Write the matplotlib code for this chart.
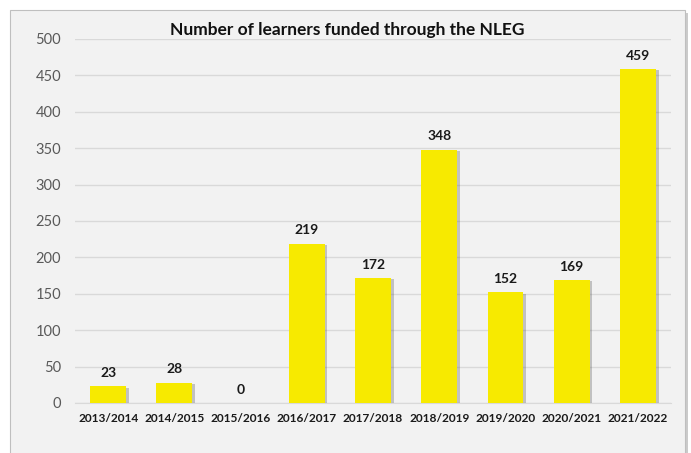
import matplotlib
matplotlib.use('Agg')
import matplotlib.pyplot as plt
import matplotlib.patheffects as pe
from matplotlib.patches import Rectangle

# learners funded per financial year
years = ['2013/2014', '2014/2015', '2015/2016', '2016/2017', '2017/2018',
         '2018/2019', '2019/2020', '2020/2021', '2021/2022']
learners = [23, 28, 0, 219, 172, 348, 152, 169, 459]
yticks = [0, 50, 100, 150, 200, 250, 300, 350, 400, 450, 500]

plt.rcParams['font.family'] = ['Lato', 'DejaVu Sans']

fig = plt.figure(figsize=(6.91, 4.53), dpi=100)
fig.patch.set_facecolor('white')

# light grey chart panel with a soft shadow, kept behind the axes
panel = Rectangle((10 / 691, -0.05), 675 / 691, 1.05 - 10 / 453,
                  transform=fig.transFigure, facecolor='#f2f2f2',
                  edgecolor='#bfbfbf', linewidth=0.8, zorder=-5)
panel.set_path_effects([pe.SimplePatchShadow(offset=(2, -2), shadow_rgbFace='#999999', alpha=0.5),
                        pe.Normal()])
fig.patches.append(panel)

ax = fig.add_axes([75 / 691, 50 / 453, 596 / 691, 364 / 453])
ax.set_facecolor('none')

x = range(len(years))
bars = ax.bar(x, learners, width=0.54, color='#f7ea00', zorder=3)
for b in bars:
    b.set_path_effects([pe.SimplePatchShadow(offset=(2, -1), shadow_rgbFace='#666666', alpha=0.35),
                        pe.Normal()])

for i, v in enumerate(learners):
    ax.text(i, v + 10, str(v), ha='center', va='bottom', fontsize=10,
            fontweight='bold', color='#1a1a1a')

ax.set_xlim(-0.5, len(years) - 0.5)
ax.set_ylim(0, 500)
ax.set_yticks(yticks)
ax.set_xticks(list(x))
ax.set_xticklabels(years, fontsize=8.6, fontweight='bold', color='#1a1a1a')
ax.tick_params(axis='y', labelsize=10.5, labelcolor='#595959', length=0, pad=10)
ax.tick_params(axis='x', length=0, pad=7)
ax.grid(axis='y', color='#d9d9d9', linewidth=1, zorder=0)
for s in ['top', 'right', 'left']:
    ax.spines[s].set_visible(False)
ax.spines['bottom'].set_color('#d9d9d9')

fig.text(347 / 691, 1 - 30 / 453, 'Number of learners funded through the NLEG',
         ha='center', va='center', fontsize=12.5, fontweight='bold', color='#111111')

fig.savefig('out.png', dpi=100)
